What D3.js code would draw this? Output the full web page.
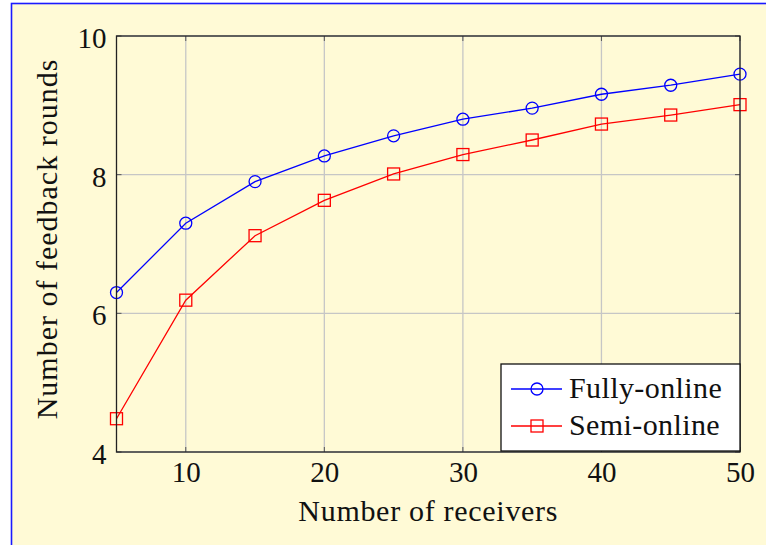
<!DOCTYPE html>
<html>
<head>
<meta charset="utf-8">
<script src="https://cdn.jsdelivr.net/npm/d3@7"></script>
<style>
  html, body { margin: 0; padding: 0; background: #ffffff; }
  svg { display: block; }
  text { font-family: "Liberation Serif", "Times New Roman", serif; fill: #111; }
</style>
</head>
<body>
<svg id="chart" width="766" height="545"></svg>
<script>
// Number of receivers on the x axis
const receivers = [5, 10, 15, 20, 25, 30, 35, 40, 45, 50];
// Average number of feedback rounds per scheme
const fullyOnline = [6.30, 7.30, 7.90, 8.27, 8.56, 8.80, 8.96, 9.16, 9.29, 9.45];
const semiOnline  = [4.48, 6.19, 7.12, 7.63, 8.01, 8.29, 8.50, 8.73, 8.86, 9.01];
const xTicks = [10, 20, 30, 40, 50];
const yTicks = [4, 6, 8, 10];
const seriesNames = ["Fully-online", "Semi-online"];

const svg = d3.select("#chart");
const bg = "#fffad6";

// page frame
svg.append("rect")
  .attr("x", 11.5).attr("y", 3.5)
  .attr("width", 800).attr("height", 600)
  .attr("fill", bg).attr("stroke", "#1a1aff").attr("stroke-width", 1.6);

const plot = { left: 116.5, right: 740, top: 36, bottom: 452 };
const x = d3.scaleLinear().domain([5, 50]).range([plot.left, plot.right]);
const y = d3.scaleLinear().domain([4, 10]).range([plot.bottom, plot.top]);

// grid lines
const grid = svg.append("g");
grid.selectAll("line.vx").data(xTicks).join("line")
  .attr("x1", d => x(d)).attr("x2", d => x(d))
  .attr("y1", plot.top).attr("y2", plot.bottom)
  .attr("stroke", "#c6c6c6").attr("stroke-width", 1.3);
grid.selectAll("line.hy").data(yTicks).join("line")
  .attr("x1", plot.left).attr("x2", plot.right)
  .attr("y1", d => y(d)).attr("y2", d => y(d))
  .attr("stroke", "#c6c6c6").attr("stroke-width", 1.3);

// inner tick marks on all four sides
const tk = svg.append("g").attr("stroke", "#555").attr("stroke-width", 1);
xTicks.forEach(v => {
  tk.append("line").attr("x1", x(v)).attr("x2", x(v)).attr("y1", plot.bottom).attr("y2", plot.bottom - 5);
  tk.append("line").attr("x1", x(v)).attr("x2", x(v)).attr("y1", plot.top).attr("y2", plot.top + 5);
});
yTicks.forEach(v => {
  tk.append("line").attr("x1", plot.left).attr("x2", plot.left + 5).attr("y1", y(v)).attr("y2", y(v));
  tk.append("line").attr("x1", plot.right).attr("x2", plot.right - 5).attr("y1", y(v)).attr("y2", y(v));
});

// tick labels through d3 axes
const xAxis = svg.append("g")
  .attr("transform", `translate(0,${plot.bottom})`)
  .call(d3.axisBottom(x).tickValues(xTicks).tickFormat(d3.format("d")).tickSize(0).tickPadding(0));
xAxis.select(".domain").remove();
xAxis.selectAll("text")
  .attr("y", 30).attr("dy", null)
  .style("font-size", "29px").attr("fill", "#111");

const yAxis = svg.append("g")
  .attr("transform", `translate(${plot.left},0)`)
  .call(d3.axisLeft(y).tickValues(yTicks).tickFormat(d3.format("d")).tickSize(0).tickPadding(0));
yAxis.select(".domain").remove();
yAxis.selectAll("text")
  .attr("x", -10).attr("dy", "11.5px")
  .style("font-size", "29px").attr("fill", "#111");

// series
const series = [
  { name: seriesNames[0], values: fullyOnline, color: "#0000ff", marker: "circle" },
  { name: seriesNames[1], values: semiOnline,  color: "#ff0000", marker: "square" }
];
const line = d3.line().x(d => x(d[0])).y(d => y(d[1]));

function drawMarker(g, type, cx, cy, color) {
  if (type === "circle") {
    g.append("circle").attr("cx", cx).attr("cy", cy).attr("r", 6)
      .attr("fill", "none").attr("stroke", color).attr("stroke-width", 1.3);
  } else {
    g.append("rect").attr("x", cx - 6).attr("y", cy - 6).attr("width", 12).attr("height", 12)
      .attr("fill", "none").attr("stroke", color).attr("stroke-width", 1.3);
  }
}

series.forEach(s => {
  const pts = receivers.map((r, i) => [r, s.values[i]]);
  svg.append("path").datum(pts)
    .attr("d", line).attr("fill", "none")
    .attr("stroke", s.color).attr("stroke-width", 1.3);
  const mg = svg.append("g");
  pts.forEach(p => drawMarker(mg, s.marker, x(p[0]), y(p[1]), s.color));
});

// axis frame
svg.append("rect")
  .attr("x", plot.left).attr("y", plot.top)
  .attr("width", plot.right - plot.left).attr("height", plot.bottom - plot.top)
  .attr("fill", "none").attr("stroke", "#222").attr("stroke-width", 1.3);

// axis titles
svg.append("text")
  .attr("x", (plot.left + plot.right) / 2).attr("y", 521)
  .attr("text-anchor", "middle")
  .style("font-size", "30px").style("letter-spacing", "0.7px")
  .text("Number of receivers");

svg.append("text")
  .attr("transform", "translate(57,239) rotate(-90)")
  .attr("text-anchor", "middle")
  .style("font-size", "30px").style("letter-spacing", "1px")
  .text("Number of feedback rounds");

// legend
const lg = svg.append("g");
lg.append("rect")
  .attr("x", 501).attr("y", 364).attr("width", 239).attr("height", 87)
  .attr("fill", "#ffffff").attr("stroke", "#111").attr("stroke-width", 1.3);
series.forEach((s, i) => {
  const ry = 389 + i * 37;
  lg.append("line").attr("x1", 511).attr("x2", 562).attr("y1", ry).attr("y2", ry)
    .attr("stroke", s.color).attr("stroke-width", 1.3);
  drawMarker(lg, s.marker, 537, ry, s.color);
  lg.append("text").attr("x", 569).attr("y", ry + 9)
    .style("font-size", "30px").style("letter-spacing", "0.4px")
    .text(s.name);
});
</script>
</body>
</html>
